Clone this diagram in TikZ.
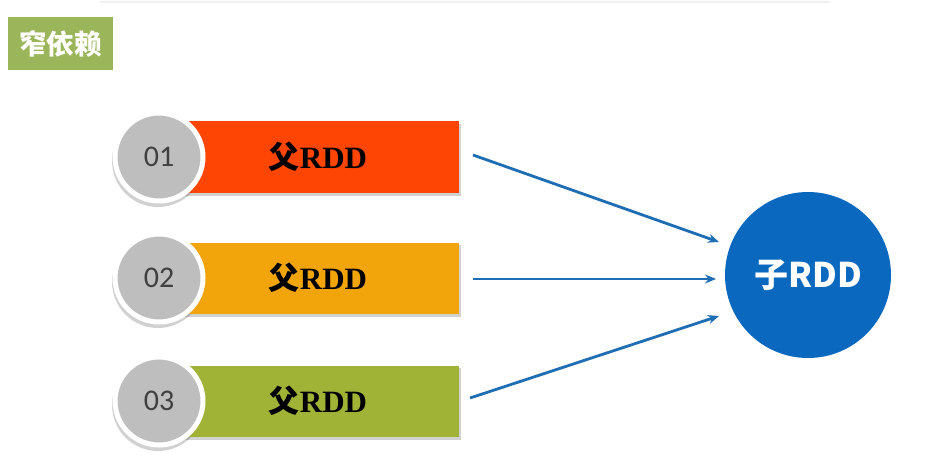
\documentclass[tikz,border=0pt]{standalone}
\usepackage{fontspec}
\setmainfont{Liberation Serif}
\newfontfamily\cjk{Noto Sans CJK SC}
\newfontfamily\numfont{Carlito}
\usetikzlibrary{arrows.meta}
\definecolor{titlegreen}{HTML}{9BB55A}
\definecolor{barred}{HTML}{FF4503}
\definecolor{baryellow}{HTML}{F2A50A}
\definecolor{barolive}{HTML}{A0B336}
\definecolor{numgray}{HTML}{BEBEBE}
\definecolor{childblue}{HTML}{0A69BF}
\definecolor{arrowblue}{HTML}{1F6DB3}
\tikzset{
  titlebox/.style={fill=titlegreen, minimum width=105pt, minimum height=53pt, inner sep=0pt,
    font=\cjk\bfseries\fontsize{27.5}{27.5}\selectfont, text=white},
  barbox/.style={minimum width=290pt, minimum height=71pt, inner sep=0pt,
    font=\fontsize{31}{31}\selectfont\bfseries, text=black},
  bartext/.style={font=\fontsize{31}{31}\selectfont\bfseries, text=black, inner sep=0pt},
  numcircle/.style={circle, fill=numgray, draw=white, line width=5pt, minimum size=88pt,
    inner sep=0pt, font=\numfont\fontsize{30}{30}\selectfont, text=black!75},
  childcircle/.style={circle, fill=childblue, minimum size=166pt, inner sep=0pt,
    font=\cjk\bfseries\fontsize{34}{34}\selectfont, text=white},
  conn/.style={draw=arrowblue, line width=2.8pt, -{Stealth[length=11pt,width=9pt]}},
  shadowfill/.style={fill=black, opacity=0.18}
}
\begin{document}
\begin{tikzpicture}[x=1pt,y=-1pt]
\useasboundingbox (0,0) rectangle (936,468);
\fill[white] (0,0) rectangle (936,468);
\fill[black!6] (100,1) rectangle (830,3);

\node[titlebox] (title) at (60.5,43.5) {窄依赖};

% shadows
\foreach \y in {157,278,401}{
  \fill[shadowfill] (173,\y-33) rectangle (461,\y+39);
  \fill[shadowfill] (158,\y+4) circle (46pt);
}

\node[barbox, fill=barred] (bar1) at (314,157) {};
\node[barbox, fill=baryellow] (bar2) at (314,278) {};
\node[barbox, fill=barolive] (bar3) at (314,401) {};
\node[bartext] (t1) at (318,157) {{\cjk 父}RDD};
\node[bartext] (t2) at (318,278) {{\cjk 父}RDD};
\node[bartext] (t3) at (318,401) {{\cjk 父}RDD};

\node[numcircle] (n1) at (159,157) {01};
\node[numcircle] (n2) at (159,278) {02};
\node[numcircle] (n3) at (159,401) {03};

\node[childcircle] (child) at (808,275) {子RDD};

\coordinate (s1) at (473,155);
\coordinate (s2) at (473,279);
\coordinate (s3) at (470,398);
\coordinate (e1) at (719,242);
\coordinate (e2) at (716,279);
\coordinate (e3) at (719,316);

\draw[conn] (s1) -- (e1);
\draw[conn] (s2) -- (e2);
\draw[conn] (s3) -- (e3);
\end{tikzpicture}
\end{document}
